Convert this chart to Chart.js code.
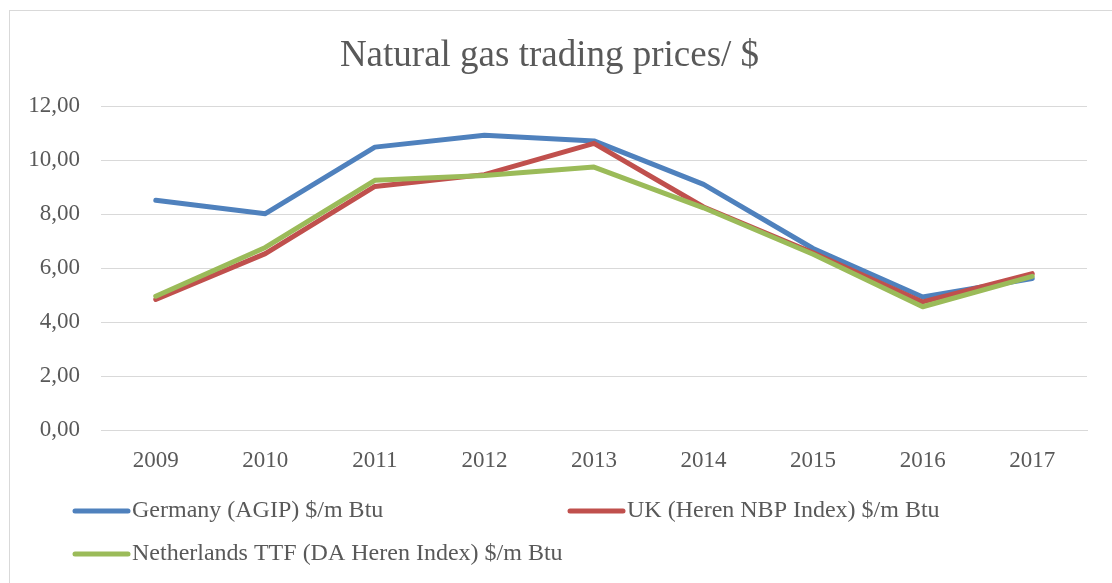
<!DOCTYPE html>
<html>
<head>
<meta charset="utf-8">
<script src="https://cdn.jsdelivr.net/npm/chart.js@4"></script>
<style>
  body { margin: 0; background: #fff; }
</style>
</head>
<body>
<canvas id="graficoGas" width="1112" height="583"></canvas>
<script>
// years and prices
const anios = ['2009', '2010', '2011', '2012', '2013', '2014', '2015', '2016', '2017'];
const alemania = [8.52, 8.02, 10.49, 10.93, 10.72, 9.11, 6.73, 4.93, 5.62];
const reinoUnido = [4.84, 6.54, 9.03, 9.47, 10.63, 8.27, 6.57, 4.75, 5.80];
const holanda = [4.96, 6.77, 9.26, 9.44, 9.75, 8.24, 6.52, 4.57, 5.70];
const nombres = ['Germany (AGIP) $/m Btu', 'UK (Heren NBP Index) $/m Btu', 'Netherlands TTF (DA Heren Index) $/m Btu'];
const colores = ['#4f81bd', '#c0504d', '#9bbb59'];

const fuente = 'Liberation Serif, Times New Roman, serif';
const gris = '#595959';

// frame around the chart (like the excel chart area border)
const marco = {
    id: 'marco',
    beforeDraw(chart) {
        const ctx = chart.ctx;
        ctx.save();
        ctx.fillStyle = '#fff';
        ctx.fillRect(0, 0, chart.width, chart.height);
        ctx.strokeStyle = '#d9d9d9';
        ctx.lineWidth = 1;
        ctx.strokeRect(9.5, 10.5, 1300, 800);
        ctx.restore();
    }
};

// legend in two columns, left aligned
const leyenda = {
    id: 'leyenda',
    afterDraw(chart) {
        const ctx = chart.ctx;
        const pos = [[73, 511], [568, 511], [73, 554]];
        ctx.save();
        ctx.font = '24px ' + fuente;
        ctx.textBaseline = 'middle';
        chart.data.datasets.forEach((ds, i) => {
            const [x, y] = pos[i];
            ctx.strokeStyle = ds.borderColor;
            ctx.lineWidth = 5;
            ctx.lineCap = 'round';
            ctx.beginPath();
            ctx.moveTo(x + 2, y);
            ctx.lineTo(x + 55, y);
            ctx.stroke();
            ctx.fillStyle = gris;
            ctx.fillText(ds.label, x + 59, y);
        });
        ctx.restore();
    }
};

const serie = (label, data, color, orden) => ({
    label: label,
    data: data,
    borderColor: color,
    backgroundColor: color,
    borderWidth: 5,
    borderJoinStyle: 'round',
    borderCapStyle: 'round',
    pointRadius: 0,
    tension: 0,
    order: orden
});

new Chart(document.getElementById('graficoGas'), {
    type: 'line',
    data: {
        labels: anios,
        datasets: [
            serie(nombres[0], alemania, colores[0], 3),
            serie(nombres[1], reinoUnido, colores[1], 2),
            serie(nombres[2], holanda, colores[2], 1)
        ]
    },
    options: {
        responsive: false,
        animation: false,
        devicePixelRatio: 1,
        layout: { padding: { left: 12, right: 25, top: 0, bottom: 103 } },
        plugins: {
            legend: { display: false },
            tooltip: { enabled: false },
            title: {
                display: true,
                text: 'Natural gas trading prices/ $',
                color: gris,
                font: { family: fuente, size: 37, weight: 'normal', lineHeight: 1.2 },
                padding: { top: 34, bottom: 28 }
            }
        },
        scales: {
            x: {
                offset: true,
                grid: { display: false, drawTicks: false },
                border: { display: true, color: '#d9d9d9', width: 1 },
                ticks: { color: gris, font: { family: fuente, size: 23 }, padding: 17, maxRotation: 0 },
                afterFit: s => { s.height = 50; }
            },
            y: {
                min: 0,
                max: 12,
                grid: { color: '#d9d9d9', lineWidth: 1, drawTicks: false },
                border: { display: false },
                ticks: {
                    stepSize: 2,
                    color: gris,
                    padding: 21,
                    font: { family: fuente, size: 23 },
                    callback: v => v.toFixed(2).replace('.', ',')
                },
                afterFit: s => { s.width = 89; }
            }
        }
    },
    plugins: [marco, leyenda]
});
</script>
</body>
</html>
